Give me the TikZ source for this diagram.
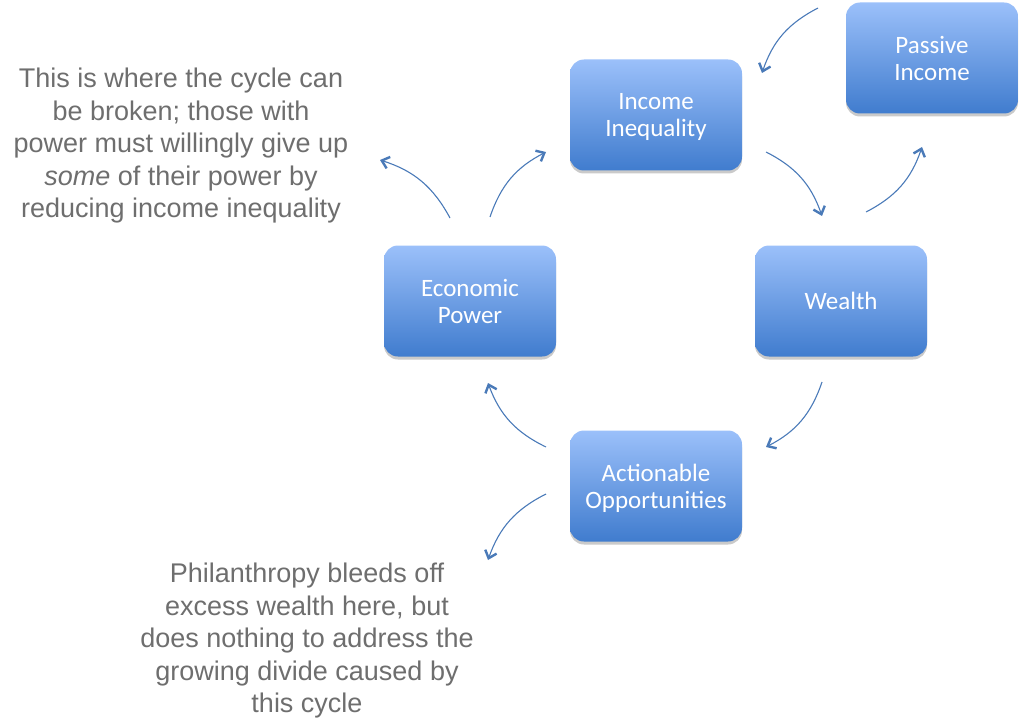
\documentclass[tikz,border=0pt]{standalone}
\usepackage{fontspec}
\setmainfont{Liberation Sans}
\newfontfamily\boxfont{Carlito}
\usetikzlibrary{arrows.meta,shadows}
\definecolor{arrowblue}{RGB}{74,122,184}
\definecolor{boxtop}{RGB}{155,192,250}
\definecolor{boxbot}{RGB}{64,124,206}
\definecolor{notegray}{RGB}{110,110,110}
\tikzset{
  cyclebox/.style={rounded corners=14pt, minimum width=172pt, minimum height=111pt,
    top color=boxtop, bottom color=boxbot, draw=none, align=center, text=white,
    font=\boxfont\fontsize{25}{27}\selectfont,
    drop shadow={shadow xshift=0pt, shadow yshift=-3pt, opacity=0.35, fill=black!60}},
  flow/.style={draw=arrowblue, line width=1.1pt,
    -{Straight Barb[length=7pt,width=12pt,line width=2.4pt]}},
  note/.style={align=center, text=notegray, font=\fontsize{27}{32.5}\selectfont}
}
\begin{document}
\begin{tikzpicture}[x=1pt,y=-1pt]
\useasboundingbox (0,0) rectangle (1024,722);
\node[cyclebox, text depth=-4pt] (ineq) at (656,115) {Income\\Inequality};
\node[cyclebox, text depth=-4pt] (passive) at (932,58) {Passive\\Income};
\node[cyclebox] (wealth) at (841,301) {Wealth};
\node[cyclebox, text depth=-4pt] (power) at (470,301) {Economic\\Power};
\node[cyclebox, text depth=-4pt] (action) at (656,486) {Actionable\\Opportunities};
\node[note] (broken) at (181,146) {This is where the cycle can\\be broken; those with\\power must willingly give up\\\textit{some} of their power by\\reducing income inequality};
\node[note] (phil) at (307,641) {Philanthropy bleeds off\\excess wealth here, but\\does nothing to address the\\growing divide caused by\\this cycle};
\coordinate (a1s) at (818,8);   \coordinate (a1e) at (762,73);
\coordinate (a2s) at (766,152); \coordinate (a2e) at (822,216);
\coordinate (a3s) at (866,212); \coordinate (a3e) at (922,147);
\coordinate (a4s) at (822,382); \coordinate (a4e) at (766,447);
\coordinate (a5s) at (546,447); \coordinate (a5e) at (488,383);
\coordinate (a6s) at (490,217); \coordinate (a6e) at (546,152);
\coordinate (a7s) at (450,218); \coordinate (a7e) at (380,160);
\coordinate (a8s) at (546,494); \coordinate (a8e) at (488,560);
\draw[flow] (a1s) to[bend right=22] (a1e);
\draw[flow] (a2s) to[bend left=22] (a2e);
\draw[flow] (a3s) to[bend right=22] (a3e);
\draw[flow] (a4s) to[bend left=22] (a4e);
\draw[flow] (a5s) to[bend left=22] (a5e);
\draw[flow] (a6s) to[bend left=22] (a6e);
\draw[flow] (a7s) to[bend right=22] (a7e);
\draw[flow] (a8s) to[bend right=22] (a8e);
\end{tikzpicture}
\end{document}
